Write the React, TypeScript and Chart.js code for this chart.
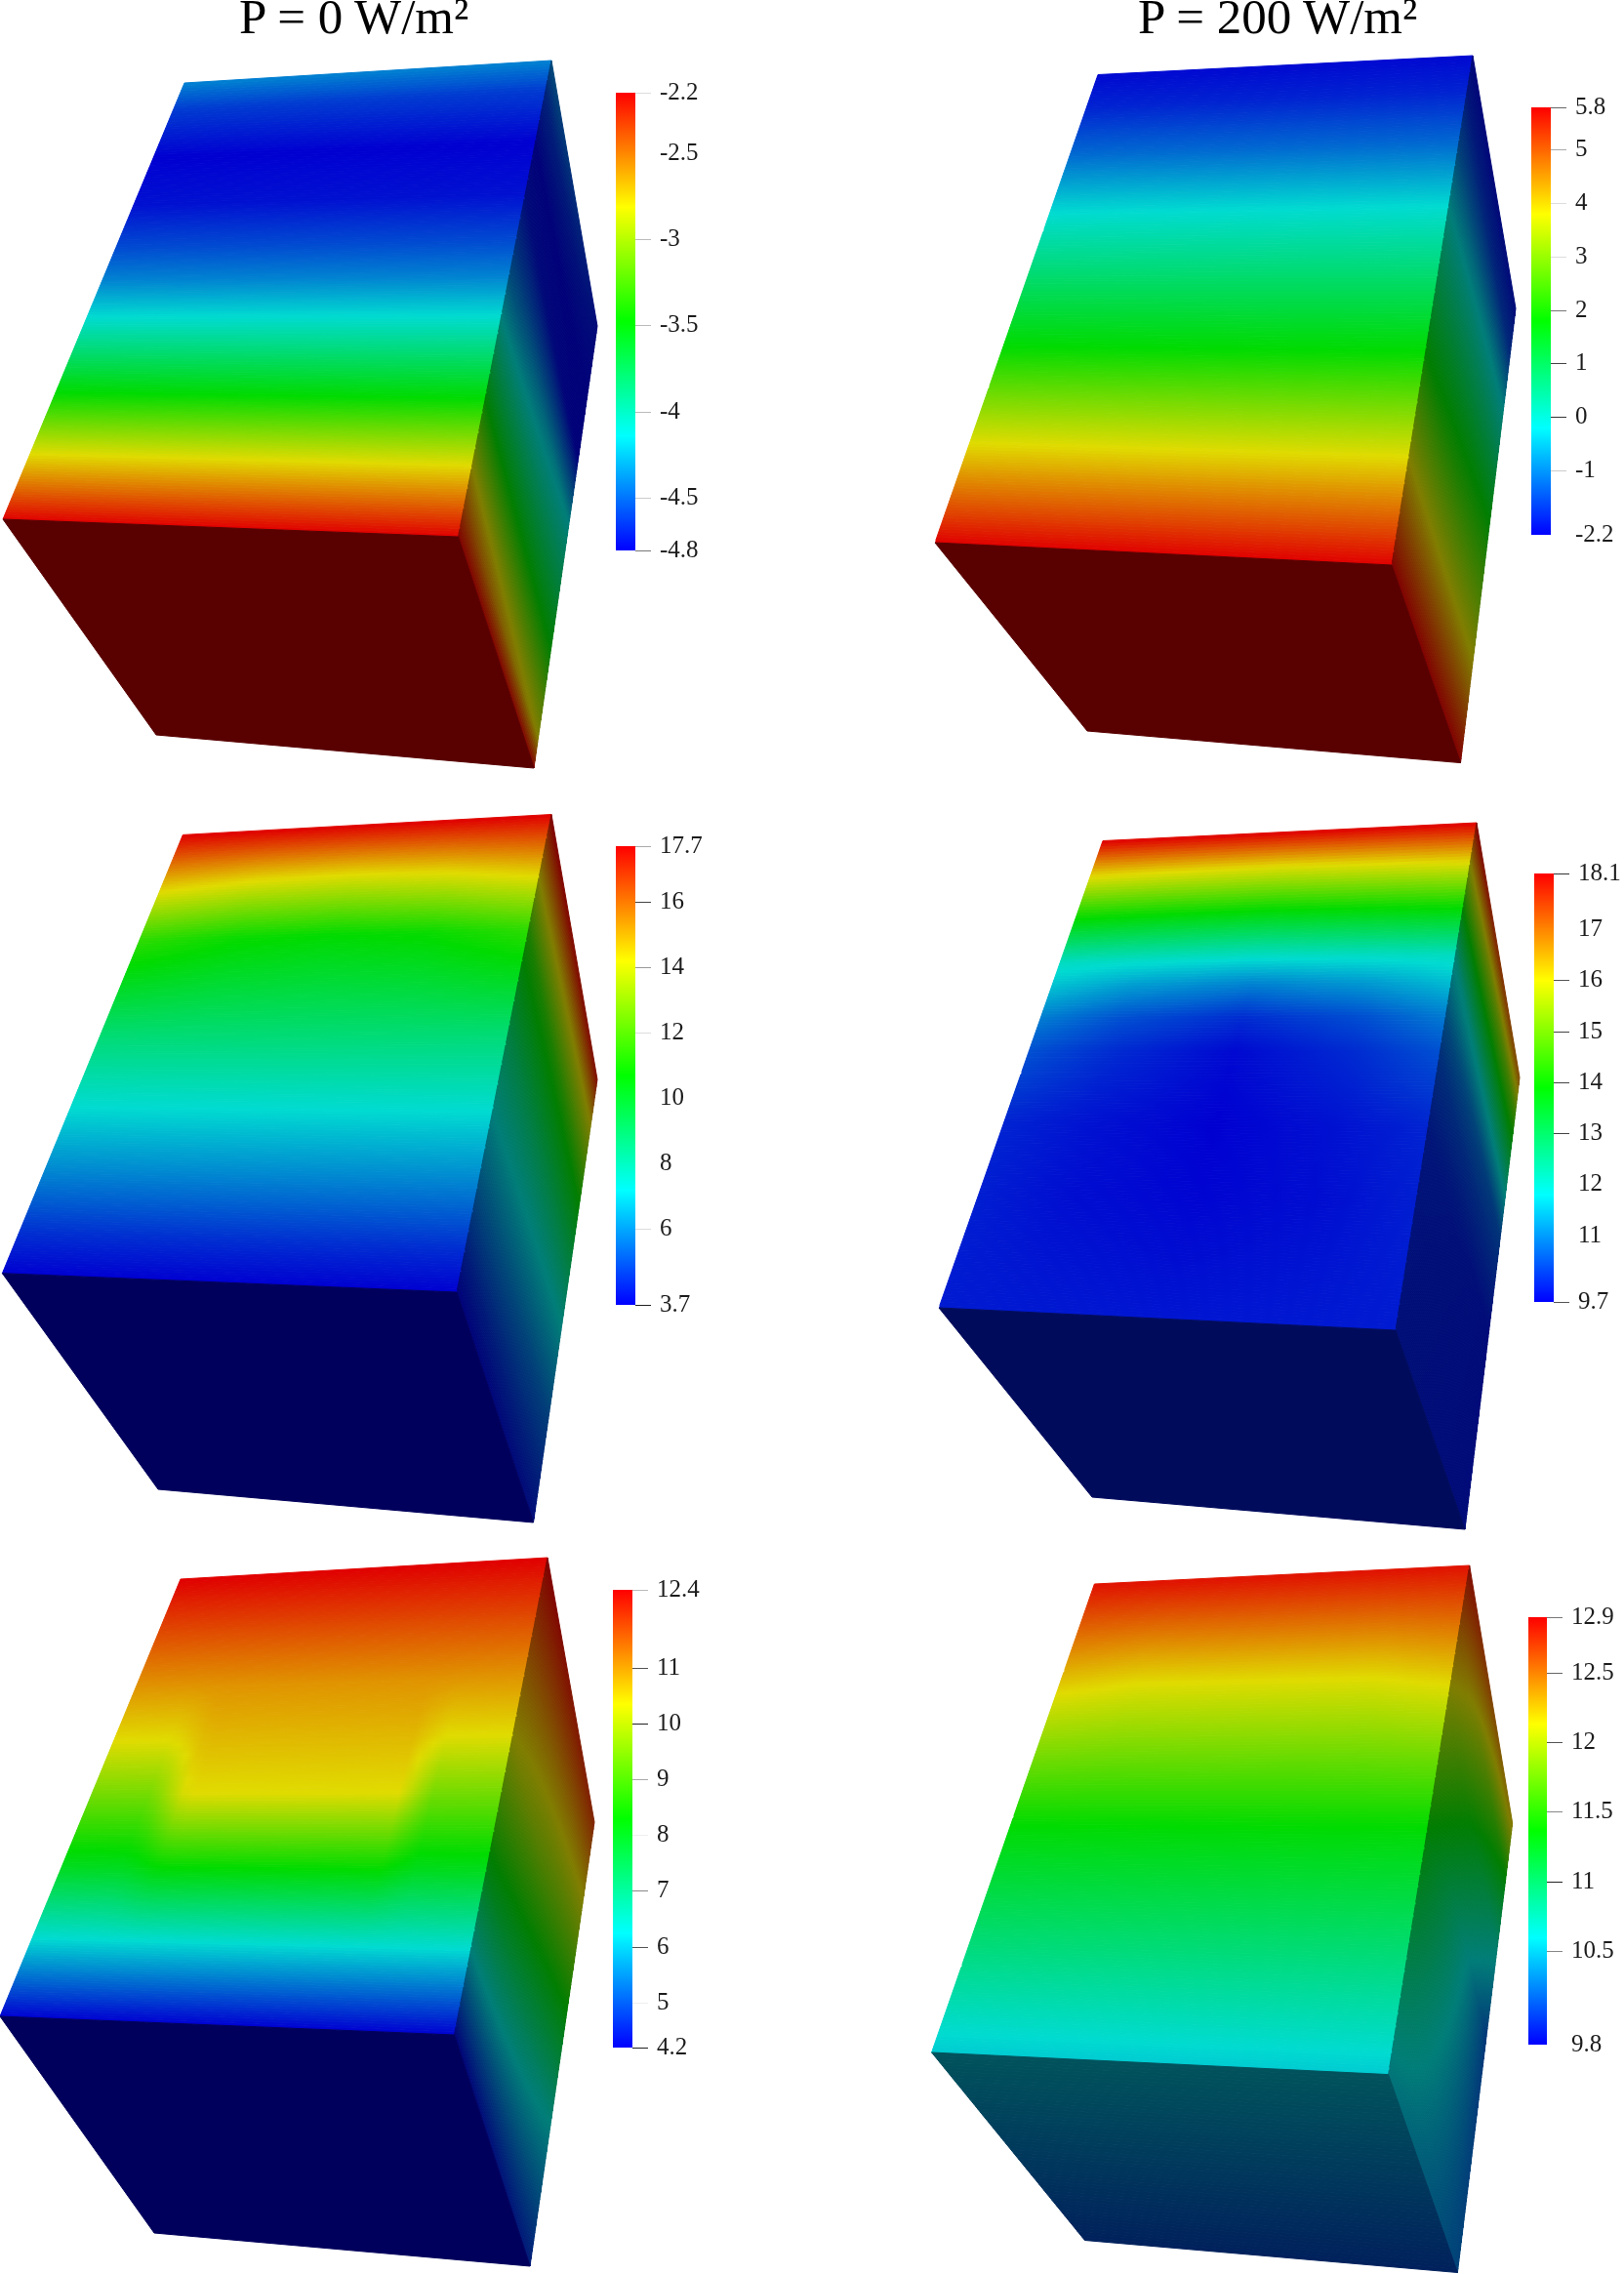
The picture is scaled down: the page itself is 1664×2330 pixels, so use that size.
import React, { useEffect, useRef } from "react";
import { Chart, registerables } from "chart.js";

Chart.register(...registerables);

// ---------- colour ramp of the scalar bars (low to high) ----------
const rampColors = [
  [0, 0, 255],
  [0, 255, 255],
  [0, 255, 0],
  [255, 255, 0],
  [255, 0, 0],
];

// ---------- shading of the three visible faces ----------
const litTop = [0.88, 0.86, 0.82];
const litSide = [0.5, 0.49, 0.47];
const litBottom = [0.35, 0.35, 0.36];

// ---------- titles ----------
const titleLeft = "P = 0 W/m²";
const titleRight = "P = 200 W/m²";

// ---------- panel A: P = 0, top row ----------
const aRange = [-4.8, -2.15];
const aTicks = [-2.15, -2.5, -3, -3.5, -4, -4.5, -4.8];
const aLabels = ["-2.2", "-2.5", "-3", "-3.5", "-4", "-4.5", "-4.8"];
const aTickInk = ["#ddd", "#fff", "#bbb", "#bbb", "#bbb", "#ccc", "#777"];
const aDepth = [0, 0.06, 0.17, 0.28, 0.38, 0.45, 0.535, 0.71, 0.85, 1];
const aTop = [-4.41, -4.62, -4.8, -4.75, -4.57, -4.41, -4.14, -3.47, -2.81, -2.15];
const aFarDepth = [0, 0.15, 0.3, 0.445, 0.73, 0.93, 1];
const aFar = [-4.75, -4.8, -4.8, -4.14, -3.47, -2.81, -2.15];
const aBottom = [-2.15, -2.15];

// ---------- panel B: P = 200, top row ----------
const bRange = [-2.2, 5.8];
const bTicks = [5.8, 5, 4, 3, 2, 1, 0, -1, -2.2];
const bLabels = ["5.8", "5", "4", "3", "2", "1", "0", "-1", "-2.2"];
const bTickInk = ["#666", "#aaa", "#ddd", "#ddd", "#777", "#444", "#333", "#ccc", "#fff"];
const bDepth = [0, 0.07, 0.17, 0.295, 0.58, 0.787, 1];
const bTop = [-2.12, -1.88, -1.24, -0.2, 1.8, 3.8, 5.8];
const bFarDepth = [0, 0.1, 0.22, 0.47, 0.77, 1];
const bFar = [-2.04, -1.56, -0.2, 1.8, 3.8, 5.8];
const bBottom = [5.8, 5.8];

// ---------- panel C: P = 0, middle row ----------
const cRange = [3.7, 17.7];
const cTicks = [17.7, 16, 14, 12, 10, 8, 6, 3.7];
const cLabels = ["17.7", "16", "14", "12", "10", "8", "6", "3.7"];
const cTickInk = ["#aaa", "#444", "#999", "#ddd", "#fff", "#fff", "#ddd", "#222"];
const cDepth = [0, 0.108, 0.24, 0.46, 0.62, 0.77, 0.91, 1];
const cEdge = [17.7, 14.76, 11.4, 8.74, 7.2, 5.8, 4.4, 3.7];
const cMid = [17.7, 14.34, 10.84, 8.74, 7.2, 5.8, 4.4, 3.7];
const cCentre = [17.7, 14.2, 10.7, 8.74, 7.2, 5.8, 4.4, 3.7];
const cFarDepth = [0, 0.1, 0.28, 0.555, 0.76, 1];
const cFar = [17.28, 14.2, 10.7, 7.2, 5.38, 3.98];
const cBottom = [3.7, 3.7];

// ---------- panel D: P = 200, middle row ----------
const dRange = [9.7, 18.1];
const dTicks = [18.1, 17, 16, 15, 14, 13, 12, 11, 9.7];
const dLabels = ["18.1", "17", "16", "15", "14", "13", "12", "11", "9.7"];
const dTickInk = ["#333", "#fff", "#555", "#444", "#444", "#444", "#fff", "#fff", "#555"];
const dDepth = [0, 0.07, 0.16, 0.26, 0.31, 0.38, 0.45, 0.6, 0.75, 1];
const dEdge = [18.1, 16.17, 14.07, 11.97, 11.55, 10.88, 10.46, 10.04, 9.98, 9.95];
const dMid = [18.1, 16.08, 13.98, 11.88, 11.21, 10.46, 10.12, 9.87, 9.83, 9.93];
const dCentre = [18.1, 16, 13.9, 11.8, 10.96, 10.12, 9.78, 9.7, 9.74, 9.9];
const dFarDepth = [0, 0.08, 0.17, 0.25, 0.35, 0.56, 1];
const dFar = [16.84, 14.74, 13.23, 11.97, 10.54, 9.87, 9.87];
const dBottom = [9.95, 9.95];

// ---------- panel E: P = 0, bottom row ----------
const eRange = [4.2, 12.4];
const eTicks = [12.4, 11, 10, 9, 8, 7, 6, 5, 4.2];
const eLabels = ["12.4", "11", "10", "9", "8", "7", "6", "5", "4.2"];
const eTickInk = ["#bbb", "#555", "#222", "#aaa", "#eee", "#888", "#555", "#eee", "#222"];
const eDepth = [0, 0.16, 0.25, 0.37, 0.49, 0.62, 0.656, 0.82, 1];
const eEdge = [12.4, 11.5, 11.0, 10.35, 9.37, 8.3, 8.01, 6.25, 4.2];
const eInner = [12.4, 11.5, 11.02, 10.68, 10.35, 8.74, 8.3, 6.25, 4.2];
const eFarDepth = [0, 0.17, 0.42, 0.68, 1];
const eFar = [11.83, 10.35, 8.3, 6.25, 4.61];
const eBottom = [4.2, 4.2];

// ---------- panel F: P = 200, bottom row ----------
const fRange = [9.83, 12.9];
const fTicks = [12.9, 12.5, 12, 11.5, 11, 10.5, 9.83];
const fLabels = ["12.9", "12.5", "12", "11.5", "11", "10.5", "9.8"];
const fTickInk = ["#777", "#666", "#555", "#888", "#222", "#888", "#fff"];
const fDepth = [0, 0.217, 0.235, 0.52, 0.97, 1];
const fEdge = [12.84, 12.19, 12.13, 11.35, 10.58, 10.54];
const fCentre = [12.84, 12.13, 12.08, 11.35, 10.58, 10.54];
const fFarDepth = [0, 0.12, 0.28, 0.47, 1];
const fFar = [12.19, 11.35, 10.67, 10.17, 10.23];
const fBottomDepth = [0, 0.5, 1];
const fBottom = [10.54, 10.33, 10.11];

// ---------- cube outlines in the page's data space ----------
// backLeft, backRight, frontLeft, frontRight, outerTop, outerBottom, underBack
const aCube = [[189, 85], [565, 62], [3, 532], [469.5, 550], [612, 334], [547, 787], [160, 753]];
const bCube = [[1125, 76.5], [1509, 57], [958, 556], [1426, 579], [1553, 316], [1496.5, 781.6], [1114, 749]];
const cCube = [[187.4, 855.4], [565, 834.5], [2.4, 1304.7], [468, 1324], [612, 1106], [546.5, 1560], [162, 1526]];
const dCube = [[1130, 861.5], [1513, 843], [962, 1340], [1430, 1363], [1557, 1104], [1501, 1567], [1119, 1534]];
const eCube = [[185, 1618], [561, 1596], [0, 2066], [465.5, 2085], [609, 1867], [543, 2322], [158, 2288]];
const fCube = [[1121.4, 1623], [1505.7, 1604], [954.6, 2103], [1422.6, 2125.6], [1549.7, 1868], [1493.4, 2328.5], [1111.5, 2295.5]];

// scalar-bar frames: left, top, width, height
const aBar = [631, 95, 20, 469];
const bBar = [1569, 110, 20, 438];
const cBar = [631, 867, 20, 470];
const dBar = [1572, 895, 20, 439];
const eBar = [628, 1629, 20, 469];
const fBar = [1566, 1657, 19, 438];

type Col = [number[], number[]];
type Panel = {
  range: number[];
  cube: number[][];
  topW: number[];
  topCols: Col[];
  farCol: Col;
  bottomCol: Col;
  ticks: number[];
  labels: string[];
  ink: string[];
  bar: number[];
};

const panels: Panel[] = [
  { range: aRange, cube: aCube, topW: [0], topCols: [[aDepth, aTop]], farCol: [aFarDepth, aFar], bottomCol: [[0, 1], aBottom], ticks: aTicks, labels: aLabels, ink: aTickInk, bar: aBar },
  { range: bRange, cube: bCube, topW: [0], topCols: [[bDepth, bTop]], farCol: [bFarDepth, bFar], bottomCol: [[0, 1], bBottom], ticks: bTicks, labels: bLabels, ink: bTickInk, bar: bBar },
  {
    range: cRange, cube: cCube, topW: [0, 0.25, 0.5, 0.75, 1],
    topCols: [[cDepth, cEdge], [cDepth, cMid], [cDepth, cCentre], [cDepth, cMid], [cDepth, cEdge]],
    farCol: [cFarDepth, cFar], bottomCol: [[0, 1], cBottom], ticks: cTicks, labels: cLabels, ink: cTickInk, bar: cBar,
  },
  {
    range: dRange, cube: dCube, topW: [0, 0.2, 0.5, 0.8, 1],
    topCols: [[dDepth, dEdge], [dDepth, dMid], [dDepth, dCentre], [dDepth, dMid], [dDepth, dEdge]],
    farCol: [dFarDepth, dFar], bottomCol: [[0, 1], dBottom], ticks: dTicks, labels: dLabels, ink: dTickInk, bar: dBar,
  },
  {
    range: eRange, cube: eCube, topW: [0, 0.15, 0.23, 0.75, 0.83, 1],
    topCols: [[eDepth, eEdge], [eDepth, eEdge], [eDepth, eInner], [eDepth, eInner], [eDepth, eEdge], [eDepth, eEdge]],
    farCol: [eFarDepth, eFar], bottomCol: [[0, 1], eBottom], ticks: eTicks, labels: eLabels, ink: eTickInk, bar: eBar,
  },
  {
    range: fRange, cube: fCube, topW: [0, 0.2, 0.8, 1],
    topCols: [[fDepth, fEdge], [fDepth, fCentre], [fDepth, fCentre], [fDepth, fEdge]],
    farCol: [fFarDepth, fFar], bottomCol: [fBottomDepth, fBottom], ticks: fTicks, labels: fLabels, ink: fTickInk, bar: fBar,
  },
];

const PAGE_W = 1664;
const PAGE_H = 2330;

const lerp = (a: number, b: number, t: number) => a + (b - a) * t;

function sample(xs: number[], ys: number[], x: number) {
  if (x <= xs[0]) return ys[0];
  for (let i = 1; i < xs.length; i++) {
    if (x <= xs[i]) return lerp(ys[i - 1], ys[i], (x - xs[i - 1]) / (xs[i] - xs[i - 1]));
  }
  return ys[ys.length - 1];
}

function shade(value: number, range: number[], lit: number[]) {
  const f = Math.max(0, Math.min(1, (value - range[0]) / (range[1] - range[0]))) * (rampColors.length - 1);
  const i = Math.min(rampColors.length - 2, Math.floor(f));
  const k = f - i;
  const c = [0, 1, 2].map((n) => Math.round(lerp(rampColors[i][n], rampColors[i + 1][n], k) * lit[n]));
  return `rgb(${c[0]},${c[1]},${c[2]})`;
}

// A face is split into strips across its depth; every strip is one filled closed line dataset.
function faceDatasets(
  p00: number[], p10: number[], p01: number[], p11: number[],
  weights: number[], cols: Col[], range: number[], lit: number[], strips: number,
) {
  const out: any[] = [];
  const at = (a: number[], b: number[], t: number) => ({ x: lerp(a[0], b[0], t), y: lerp(a[1], b[1], t) });
  for (let s = 0; s < strips; s++) {
    const t0 = s / strips;
    const t1 = (s + 1) / strips;
    const tm = (t0 + t1) / 2;
    const a = at(p00, p01, t0);
    const b = at(p10, p11, t0);
    const c = at(p10, p11, t1);
    const d = at(p00, p01, t1);
    const l = at(p00, p01, tm);
    const r = at(p10, p11, tm);
    const values = cols.map((col) => sample(col[0], col[1], tm));
    let paint: any;
    if (values.length === 1) {
      paint = shade(values[0], range, lit);
    } else {
      const n = 36;
      const flat = shade(values[0], range, lit);
      paint = (ctx: any) => {
        const { x, y } = ctx.chart.scales;
        const x0 = x.getPixelForValue(l.x);
        const y0 = y.getPixelForValue(l.y);
        const x1 = x.getPixelForValue(r.x);
        const y1 = y.getPixelForValue(r.y);
        if (![x0, y0, x1, y1].every(Number.isFinite)) return flat;
        const g = ctx.chart.ctx.createLinearGradient(x0, y0, x1, y1);
        for (let i = 0; i <= n; i++) {
          g.addColorStop(i / n, shade(sample(weights, values, i / n), range, lit));
        }
        return g;
      };
    }
    out.push({
      data: [a, b, c, d, a],
      showLine: true,
      fill: "shape",
      pointRadius: 0,
      pointHoverRadius: 0,
      borderWidth: 1,
      backgroundColor: paint,
      borderColor: paint,
      clip: false,
    });
  }
  return out;
}

function cubeDatasets(p: Panel) {
  const [bl, br, fl, fr, ot, ob, ub] = p.cube;
  const bottomConstant = p.bottomCol[1].every((v) => v === p.bottomCol[1][0]);
  const nearCol = p.topCols[p.topCols.length - 1];
  return [
    ...faceDatasets(fl, fr, ub, ob, [0], [p.bottomCol], p.range, litBottom, bottomConstant ? 1 : 60),
    ...faceDatasets(br, ot, fr, ob, [0, 1], [nearCol, p.farCol], p.range, litSide, 120),
    ...faceDatasets(bl, br, fl, fr, p.topW, p.topCols, p.range, litTop, 170),
  ];
}

function CubesChart() {
  const ref = useRef<HTMLCanvasElement>(null);
  useEffect(() => {
    const chart = new Chart(ref.current!, {
      type: "scatter",
      data: { datasets: panels.flatMap(cubeDatasets) },
      options: {
        animation: false,
        responsive: false,
        parsing: false,
        normalized: true,
        events: [],
        layout: { padding: 0 },
        plugins: { legend: { display: false }, tooltip: { enabled: false }, title: { display: false } },
        scales: {
          x: { type: "linear", display: false, min: 0, max: PAGE_W },
          y: { type: "linear", display: false, min: 0, max: PAGE_H, reverse: true },
        },
      },
    } as any);
    return () => chart.destroy();
  }, []);
  return (
    <canvas
      ref={ref}
      width={PAGE_W}
      height={PAGE_H}
      style={{ position: "absolute", left: 0, top: 0, width: PAGE_W, height: PAGE_H }}
    />
  );
}

const BAR_CANVAS_W = 92;
const BAR_PAD = 22;

function ScalarBar({ p }: { p: Panel }) {
  const ref = useRef<HTMLCanvasElement>(null);
  const [left, top, w, h] = p.bar;
  useEffect(() => {
    const chart = new Chart(ref.current!, {
      type: "bar",
      data: {
        labels: [""],
        datasets: [
          {
            data: [[p.range[0], p.range[1]]],
            barPercentage: 1,
            categoryPercentage: 1,
            borderWidth: 0,
            backgroundColor: (ctx: any) => {
              const area = ctx.chart.chartArea;
              if (!area) return "#000";
              const g = ctx.chart.ctx.createLinearGradient(0, area.bottom, 0, area.top);
              rampColors.forEach((c, i) => g.addColorStop(i / (rampColors.length - 1), `rgb(${c[0]},${c[1]},${c[2]})`));
              return g;
            },
          },
        ],
      },
      options: {
        animation: false,
        responsive: false,
        events: [],
        layout: { padding: { top: BAR_PAD, bottom: BAR_PAD, left: 0, right: 0 } },
        plugins: { legend: { display: false }, tooltip: { enabled: false } },
        scales: {
          x: { display: false },
          y: {
            type: "linear",
            position: "right",
            min: p.range[0],
            max: p.range[1],
            afterBuildTicks: (axis: any) => {
              axis.ticks = p.ticks.map((value) => ({ value }));
            },
            afterFit: (axis: any) => {
              axis.width = BAR_CANVAS_W - w;
              axis.paddingTop = 0;
              axis.paddingBottom = 0;
              axis.paddingLeft = 0;
              axis.paddingRight = 0;
            },
            border: { display: false },
            grid: {
              drawOnChartArea: false,
              drawTicks: true,
              tickLength: 16,
              tickWidth: 1,
              tickColor: (ctx: any) => p.ink[ctx.index] ?? "#fff",
            },
            ticks: {
              autoSkip: false,
              maxRotation: 0,
              padding: 9,
              color: "#1c1c1c",
              font: { family: "'Liberation Serif'", size: 25 },
              callback: (_v: any, i: number) => p.labels[i],
            },
          },
        },
      },
    } as any);
    return () => chart.destroy();
  }, []);
  return (
    <canvas
      ref={ref}
      width={BAR_CANVAS_W}
      height={h + 2 * BAR_PAD}
      style={{ position: "absolute", left, top: top - BAR_PAD, width: BAR_CANVAS_W, height: h + 2 * BAR_PAD }}
    />
  );
}

const titleStyle: React.CSSProperties = {
  position: "absolute",
  top: -7,
  fontFamily: "'Liberation Serif', serif",
  fontSize: 51,
  lineHeight: "48px",
  color: "#000",
  whiteSpace: "nowrap",
};

export default function App() {
  useEffect(() => {
    document.body.style.margin = "0";
    document.body.style.background = "#fff";
  }, []);
  return (
    <div style={{ position: "absolute", left: 0, top: 0, width: PAGE_W, height: PAGE_H, overflow: "hidden", background: "#fff" }}>
      <CubesChart />
      {panels.map((p, i) => (
        <ScalarBar key={i} p={p} />
      ))}
      <div style={{ ...titleStyle, left: 245 }}>{titleLeft}</div>
      <div style={{ ...titleStyle, left: 1166 }}>{titleRight}</div>
    </div>
  );
}
